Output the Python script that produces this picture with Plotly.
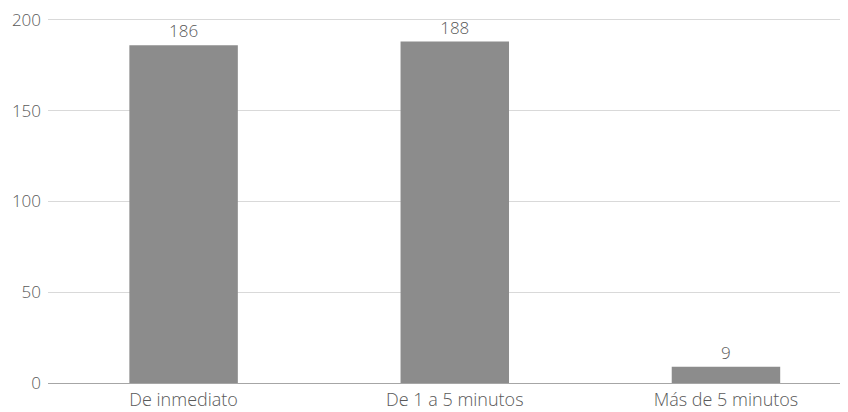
import plotly.graph_objects as go

categories = ["De inmediato", "De 1 a 5 minutos", "Más de 5 minutos"]
values = [186, 188, 9]
y_ticks = [0, 50, 100, 150, 200]

fig = go.Figure(go.Bar(
    x=categories, y=values, width=0.4,
    marker=dict(color="#8c8c8c", line=dict(width=0)),
    text=[str(v) for v in values], textposition="outside",
    textfont=dict(color="#595959", size=17, weight=300), cliponaxis=False,
))
fig.update_layout(
    width=840, height=404,
    margin=dict(l=40, r=0, t=8, b=29),
    paper_bgcolor="white", plot_bgcolor="white",
    font=dict(family="Open Sans, sans-serif", size=17, color="#595959", weight=300),
    showlegend=False,
)
fig.update_xaxes(range=[-0.5, 2.45], showgrid=False, ticks="", showline=True,
                 linecolor="#a6a6a6", linewidth=1, tickfont=dict(size=18, weight=300),
                 ticklabeloverflow="allow")
fig.update_yaxes(range=[0, 201], tickvals=y_ticks, showgrid=True, gridcolor="#d9d9d9",
                 gridwidth=1, zeroline=False, ticks="", ticklabelstandoff=6,
                 tickfont=dict(size=17, weight=300), ticklabeloverflow="allow")
fig.write_html("out.html")
